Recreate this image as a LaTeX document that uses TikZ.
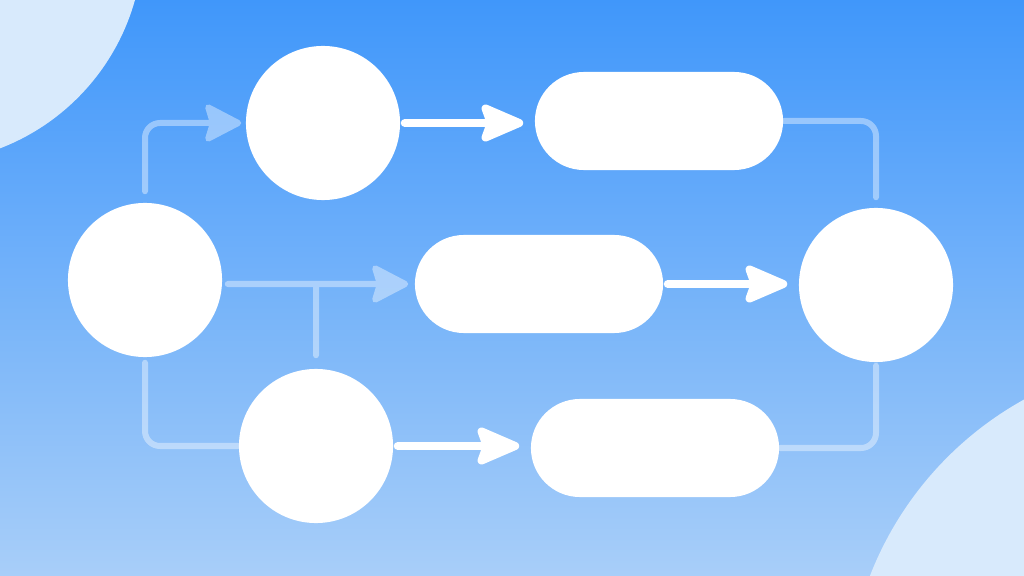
\documentclass[tikz,border=0pt]{standalone}
\usetikzlibrary{positioning,arrows.meta,shapes.misc}
\definecolor{skytop}{RGB}{64,151,250}
\definecolor{skybottom}{RGB}{168,206,249}
\definecolor{blob}{RGB}{216,234,252}
\begin{document}
\begin{tikzpicture}[x=0.01cm, y=-0.01cm,
    box/.style={fill=white, draw=none, inner sep=0pt},
    disc/.style={box, circle, minimum size=1.54cm},
    pill/.style={box, rounded rectangle, minimum width=2.48cm, minimum height=0.98cm},
    faint/.style={draw=white, line width=0.06cm, line cap=round, rounded corners=0.15cm},
    faint tip/.style={-{Stealth[length=0.41cm, width=0.42cm, inset=0.06cm, round]}},
    bold arrow/.style={draw=white, line width=0.08cm, line cap=round,
        -{Stealth[length=0.5cm, width=0.42cm, inset=0.07cm, round]}}]

    % background
    \useasboundingbox (0,0) rectangle (1024,576);
    \begin{scope}
        \clip (0,0) rectangle (1024,576);
        \shade [top color=skytop, bottom color=skybottom] (0,0) rectangle (1024,576);
        \fill [blob] (-80,-60) circle (2.23cm);
        \fill [blob] (1190,700) circle (3.43cm);
    \end{scope}

    % draw nodes
        % circles
        \foreach \x/\y [count=\i] in {145/280, 323/123, 316/446, 876/285}
        \node [disc] (circ-\i) at (\x,\y) {};

        % pills
        \foreach \x/\y [count=\i] in {659/121, 539/284, 655/448}
        \node [pill] (pill-\i) at (\x,\y) {};

    \begin{scope}[transparency group, opacity=0.4]
        % faint lines from the left circle
        \draw [faint, faint tip, shorten <=0.11cm, shorten >=0.04cm] (circ-1.north) |- (circ-2.west);
        \draw [faint, faint tip, shorten <=0.05cm, shorten >=0.06cm] (pill-2.west -| circ-1.east) -- (pill-2.west);
        \draw [faint] (pill-2.west -| circ-3.north) -- ([yshift=0.13cm]circ-3.north);
        \draw [faint, shorten <=0.05cm] (circ-1.south) |- (circ-3.west);

        % faint lines into the right circle
        \draw [faint, shorten >=0.1cm] (pill-1.east) -| (circ-4.north);
        \draw [faint, shorten >=0.03cm] (pill-3.east) -| (circ-4.south);
    \end{scope}

    % white arrows
    \foreach \a/\b in {circ-2/pill-1, pill-2/circ-4, circ-3/pill-3}
        \draw [bold arrow, shorten <=0.04cm, shorten >=0.11cm] (\a.east) -- (\a.east -| \b.west);

\end{tikzpicture}
\end{document}
